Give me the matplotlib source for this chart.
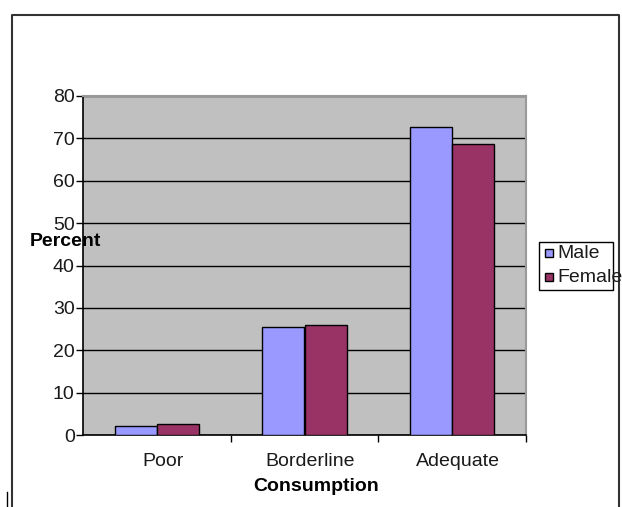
import numpy as np
import matplotlib.pyplot as plt
import matplotlib.transforms as mtransforms
from matplotlib.lines import Line2D
from matplotlib.patches import Rectangle

plt.rcParams['font.family'] = ['Liberation Sans', 'DejaVu Sans']

categories = ["Poor", "Borderline", "Adequate"]
male = [2.1, 25.5, 72.7]
female = [2.6, 26.0, 68.7]
series_names = ["Male", "Female"]
series_colors = ["#9999ff", "#993366"]
yticks = [0, 10, 20, 30, 40, 50, 60, 70, 80]

W, H = 622, 507
FS = 14
fig = plt.figure(figsize=(W / 100, H / 100), dpi=100)
ax = fig.add_axes([83 / W, 1 - 435 / H, 443 / W, 339 / H])
ax.set_facecolor("#c0c0c0")

x = np.arange(len(categories))
bw = 0.285
ax.bar(x - bw / 2, male, bw, color=series_colors[0], edgecolor="black", linewidth=1, zorder=3)
ax.bar(x + bw / 2, female, bw, color=series_colors[1], edgecolor="black", linewidth=1, zorder=3)

ax.set_xlim(-0.5, len(categories) - 0.5)
ax.set_ylim(0, 80)
ax.set_yticks(yticks)
ax.yaxis.grid(True, color="black", linewidth=1, zorder=1)
ax.set_axisbelow(True)

ax.set_xticks(x)
ax.set_xticklabels(categories, fontsize=FS, color="#1a1a1a")
ax.tick_params(axis="x", length=0, pad=13)
# category labels sit a little right of the bar pairs
shift = mtransforms.ScaledTranslation(6 / 100, 0, fig.dpi_scale_trans)
for lbl in ax.get_xticklabels():
    lbl.set_transform(lbl.get_transform() + shift)
# category separators below the axis
ax.set_xticks(np.arange(0.5, len(categories), 1), minor=True)
ax.tick_params(axis="x", which="minor", length=5, width=1, direction="out")
ax.tick_params(axis="y", length=5, width=1, labelsize=FS, pad=1, labelcolor="#1a1a1a")

for s in ["top", "right"]:
    ax.spines[s].set_color("#999999")
    ax.spines[s].set_linewidth(1.5)
ax.spines["left"].set_linewidth(1.2)
ax.spines["bottom"].set_linewidth(1.2)

ax.set_xlabel("Consumption", fontsize=FS, fontweight="bold")
ax.xaxis.set_label_coords(0.527, -0.128)
ax.set_ylabel("Percent", fontsize=FS, fontweight="bold", rotation=0, ha="center", va="center")
ax.yaxis.set_label_coords(-0.04, 0.572)

# legend box drawn by hand so the long label can run past the frame
fig.add_artist(Rectangle((539 / W, 1 - 290 / H), 74 / W, 48 / H, transform=fig.transFigure,
                         facecolor="white", edgecolor="black", linewidth=1))
for i, (name, col) in enumerate(zip(series_names, series_colors)):
    yc = 253 + i * 24
    fig.add_artist(Rectangle((545 / W, 1 - (yc + 4) / H), 8 / W, 8 / H, transform=fig.transFigure,
                             facecolor=col, edgecolor="black", linewidth=1))
    fig.text(557 / W, 1 - yc / H, name, fontsize=FS, color="#1a1a1a", ha="left", va="center")

# outer chart border
fig.add_artist(Line2D([12 / W, 12 / W, 619 / W, 619 / W], [0, 1 - 15 / H, 1 - 15 / H, 0],
                      transform=fig.transFigure, color="#333333", linewidth=1.5))
fig.add_artist(Line2D([7.5 / W, 7.5 / W], [0, 1 - 492 / H], transform=fig.transFigure,
                      color="black", linewidth=1))

fig.savefig("out.png", dpi=100)
